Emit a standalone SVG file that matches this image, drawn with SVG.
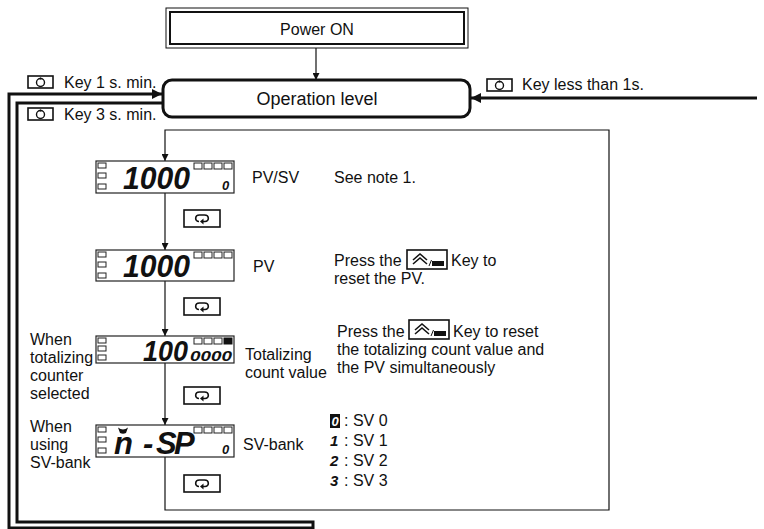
<svg xmlns="http://www.w3.org/2000/svg" width="764" height="529" viewBox="0 0 764 529">
<style>
.t{font-family:"Liberation Sans",Arial,sans-serif;font-size:16px;fill:#111}
.seg{font-family:"Liberation Sans",Arial,sans-serif;font-weight:bold;font-style:italic;fill:#111}
.ln{fill:none;stroke:#111}
.thick{stroke-width:3}
.thin{stroke-width:1.2}
.frame{fill:#fff;stroke:#222;stroke-width:1.2}
.mini{fill:#fff;stroke:#222;stroke-width:1}
.key{fill:#fff;stroke:#111;stroke-width:1.6}
</style>
<defs>
<marker id="ah" viewBox="0 0 10 10" refX="10" refY="5" markerWidth="8" markerHeight="7" markerUnits="userSpaceOnUse" orient="auto"><path d="M0,0 L10,5 L0,10 z" fill="#111"/></marker>
<marker id="ahb" viewBox="0 0 10 10" refX="10" refY="5" markerWidth="12" markerHeight="10" markerUnits="userSpaceOnUse" orient="auto"><path d="M0,0 L10,5 L0,10 z" fill="#111"/></marker>
<g id="modekey"><rect x="0" y="0" width="25" height="12" class="key"/><circle cx="12.5" cy="6.5" r="4" fill="none" stroke="#111" stroke-width="1.4"/><line x1="12.5" y1="1.5" x2="12.5" y2="3.5" stroke="#111" stroke-width="1.2"/></g>
<g id="loopkey"><rect x="0" y="0" width="36" height="17" class="key"/><path d="M15 11.5 C 10.5 11.5, 10.5 5, 15.5 5 H 20.5 C 25.5 5, 25.5 11.5, 21 11.5 H 19" fill="none" stroke="#111" stroke-width="1.6"/><path d="M19.5 8.6 L16 11.5 L19.5 14.4 z" fill="#111"/></g>
<g id="upkey"><rect x="0" y="0" width="40" height="19" class="key"/><polyline points="6,10 13,4 20,10" fill="none" stroke="#111" stroke-width="1.6"/><polyline points="6,14 13,8 20,14" fill="none" stroke="#111" stroke-width="1.6"/><line x1="22" y1="16" x2="24.5" y2="10" stroke="#111" stroke-width="1"/><rect x="25" y="11" width="12" height="5" fill="#111"/></g>
<g id="leftleds"><rect x="2" y="2" width="8" height="5" class="mini"/><rect x="2" y="12" width="8" height="5" class="mini"/><rect x="2" y="23" width="8" height="5" class="mini"/></g>
<g id="topleds"><rect x="98" y="2" width="8" height="6" class="mini"/><rect x="108" y="2" width="8" height="6" class="mini"/><rect x="118" y="2" width="8" height="6" class="mini"/><rect x="128" y="2" width="8" height="6" class="mini"/></g>
</defs>

<g id="connectors">
<line x1="316" y1="48" x2="316" y2="80" class="ln thin" marker-end="url(#ah)"/>
<line x1="757" y1="98" x2="471" y2="98" class="ln thick" marker-end="url(#ahb)"/>
<polyline points="313,528 9,528 9,94 162,94" class="ln thick" marker-end="url(#ahb)"/>
<polyline points="163,103 17,103 17,522 313,522 313,529" class="ln thick"/>
<path d="M165,457 V510 H609 V130 H165 V161" class="ln thin" marker-end="url(#ah)"/>
<line x1="165" y1="193" x2="165" y2="250" class="ln thin" marker-end="url(#ah)"/>
<line x1="165" y1="281" x2="165" y2="336" class="ln thin" marker-end="url(#ah)"/>
<line x1="165" y1="363" x2="165" y2="425" class="ln thin" marker-end="url(#ah)"/>
</g>

<g id="power-on">
<rect x="166" y="8" width="302" height="40" fill="#fff" stroke="#111" stroke-width="1"/>
<rect x="170" y="12" width="294" height="32" fill="none" stroke="#111" stroke-width="2"/>
<text x="317" y="35" class="t" text-anchor="middle">Power ON</text>
</g>

<g id="operation-level">
<rect x="163" y="80" width="307" height="37" rx="9" fill="#fff" stroke="#111" stroke-width="3"/>
<text x="317" y="105" class="t" style="font-size:18px" text-anchor="middle">Operation level</text>
</g>

<g id="key-1s">
<use href="#modekey" x="28" y="76"/>
<text x="64" y="88" class="t">Key 1 s. min.</text>
</g>
<g id="key-3s">
<use href="#modekey" x="28" y="108"/>
<text x="64" y="120" class="t">Key 3 s. min.</text>
</g>
<g id="key-less">
<use href="#modekey" x="487" y="79"/>
<text x="522" y="90" class="t">Key less than 1s.</text>
</g>

<g id="display-pvsv" transform="translate(96,161)">
<rect x="0" y="0" width="138" height="32" class="frame"/>
<use href="#leftleds"/><use href="#topleds"/>
<text x="27" y="28" class="seg" style="font-size:31px" textLength="67" lengthAdjust="spacingAndGlyphs">1000</text>
<text x="126" y="29" class="seg" style="font-size:13px">0</text>
</g>
<g id="label-pvsv">
<text x="252" y="183" class="t">PV/SV</text>
<text x="334" y="183" class="t">See note 1.</text>
</g>
<use id="loop-key-1" href="#loopkey" x="184" y="210"/>

<g id="display-pv" transform="translate(96,250)">
<rect x="0" y="0" width="138" height="31" class="frame"/>
<use href="#leftleds"/><use href="#topleds"/>
<text x="27" y="27" class="seg" style="font-size:31px" textLength="67" lengthAdjust="spacingAndGlyphs">1000</text>
</g>
<g id="label-pv">
<text x="253" y="272" class="t">PV</text>
<text x="334" y="266" class="t">Press the</text>
<use href="#upkey" x="407" y="250"/>
<text x="451" y="266" class="t">Key to</text>
<text x="334" y="284" class="t">reset the PV.</text>
</g>
<use id="loop-key-2" href="#loopkey" x="184" y="298"/>

<g id="display-total" transform="translate(96,336)">
<rect x="0" y="0" width="138" height="27" class="frame"/>
<rect x="2" y="2" width="8" height="5" class="mini"/><rect x="2" y="10" width="8" height="5" class="mini"/><rect x="2" y="19" width="8" height="5" class="mini"/>
<rect x="98" y="2" width="8" height="6" class="mini"/><rect x="108" y="2" width="8" height="6" class="mini"/><rect x="118" y="2" width="8" height="6" class="mini"/><rect x="128" y="2" width="8" height="6" fill="#111" stroke="#111"/>
<text x="47" y="25" class="seg" style="font-size:30px" textLength="45" lengthAdjust="spacingAndGlyphs">100</text>
<text x="94" y="25" class="seg" style="font-size:14px" textLength="42" lengthAdjust="spacingAndGlyphs">0000</text>
</g>
<g id="label-total">
<text class="t"><tspan x="30" y="345">When</tspan><tspan x="30" y="363">totalizing</tspan><tspan x="30" y="381">counter</tspan><tspan x="30" y="399">selected</tspan></text>
<text class="t"><tspan x="245" y="360">Totalizing</tspan><tspan x="245" y="378">count value</tspan></text>
<text x="337" y="337" class="t">Press the</text>
<use href="#upkey" x="409" y="320"/>
<text x="453" y="337" class="t">Key to reset</text>
<text x="337" y="355" class="t">the totalizing count value and</text>
<text x="337" y="373" class="t">the PV simultaneously</text>
</g>
<use id="loop-key-3" href="#loopkey" x="184" y="387"/>

<g id="display-svbank" transform="translate(96,425)">
<rect x="0" y="0" width="138" height="32" class="frame"/>
<use href="#leftleds"/><use href="#topleds"/>
<path d="M22,2.5 Q27,6.5 32,2.5 L30,8 Q27,9.5 24,8 z" fill="#111"/>
<text y="29" class="seg" style="font-size:31px" x="18 47 60 78">n-SP</text>
<text x="126" y="29" class="seg" style="font-size:13px">0</text>
</g>
<g id="label-svbank">
<text class="t"><tspan x="30" y="432">When</tspan><tspan x="30" y="450">using</tspan><tspan x="30" y="468">SV-bank</tspan></text>
<text x="243" y="450" class="t">SV-bank</text>
</g>
<g id="legend">
<rect x="330" y="414" width="10" height="14" fill="#111"/>
<text x="331.5" y="426" class="seg" style="font-size:13px;fill:#fff">0</text>
<text x="344" y="426" class="t">: SV 0</text>
<text x="330" y="446" class="seg" style="font-size:15px">1</text>
<text x="344" y="446" class="t">: SV 1</text>
<text x="330" y="466" class="seg" style="font-size:15px">2</text>
<text x="344" y="466" class="t">: SV 2</text>
<text x="330" y="486" class="seg" style="font-size:15px">3</text>
<text x="344" y="486" class="t">: SV 3</text>
</g>
<use id="loop-key-4" href="#loopkey" x="184" y="475"/>
</svg>
